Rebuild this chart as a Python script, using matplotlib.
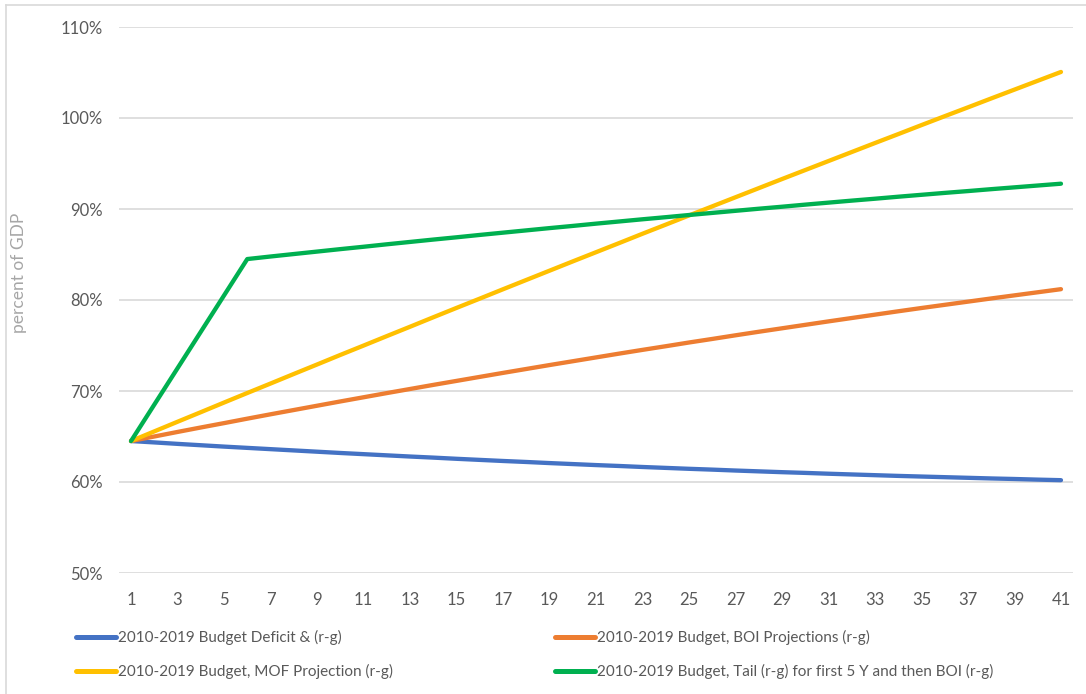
import matplotlib
matplotlib.use("Agg")
import matplotlib.pyplot as plt
from matplotlib.lines import Line2D
from matplotlib.ticker import FuncFormatter

plt.rcParams['font.family'] = ['Lato', 'DejaVu Sans']

years = list(range(1, 42))
xtick_labels = [str(v) for v in range(1, 42, 2)]

# Debt-to-GDP paths (percent of GDP)
deficit_rg = [64.50, 64.35, 64.19, 64.04, 63.89, 63.75, 63.61, 63.47, 63.33, 63.19,
              63.06, 62.93, 62.80, 62.68, 62.55, 62.43, 62.31, 62.20, 62.08, 61.97,
              61.86, 61.76, 61.65, 61.55, 61.45, 61.36, 61.26, 61.17, 61.08, 61.00,
              60.91, 60.83, 60.75, 60.67, 60.60, 60.53, 60.46, 60.39, 60.33, 60.26,
              60.20]
boi_rg = [64.50, 65.00, 65.50, 65.99, 66.47, 66.96, 67.44, 67.91, 68.38, 68.85,
          69.31, 69.77, 70.22, 70.67, 71.11, 71.55, 71.99, 72.42, 72.85, 73.27,
          73.69, 74.11, 74.52, 74.92, 75.33, 75.72, 76.12, 76.51, 76.89, 77.27,
          77.65, 78.02, 78.39, 78.76, 79.12, 79.47, 79.82, 80.17, 80.51, 80.85,
          81.19]
mof_rg = [64.50, 65.56, 66.62, 67.67, 68.73, 69.78, 70.82, 71.87, 72.91, 73.96,
          74.99, 76.03, 77.06, 78.10, 79.13, 80.15, 81.18, 82.20, 83.22, 84.24,
          85.25, 86.26, 87.28, 88.28, 89.29, 90.29, 91.29, 92.29, 93.29, 94.28,
          95.27, 96.26, 97.25, 98.23, 99.22, 100.20, 101.17, 102.15, 103.12, 104.09,
          105.06]
tail_boi_rg = [64.50, 68.50, 72.50, 76.50, 80.50, 84.50, 84.78, 85.05, 85.32, 85.59,
               85.85, 86.12, 86.38, 86.64, 86.89, 87.15, 87.40, 87.65, 87.90, 88.14,
               88.39, 88.63, 88.87, 89.10, 89.34, 89.57, 89.80, 90.03, 90.25, 90.48,
               90.70, 90.92, 91.13, 91.35, 91.56, 91.77, 91.97, 92.18, 92.38, 92.58,
               92.78]

series_names = [
    "2010-2019 Budget Deficit & (r-g)",
    "2010-2019 Budget, BOI Projections (r-g)",
    "2010-2019 Budget, MOF Projection (r-g)",
    "2010-2019 Budget, Tail (r-g) for first 5 Y and then BOI (r-g)",
]
series_values = [deficit_rg, boi_rg, mof_rg, tail_boi_rg]
series_colors = ["#4472C4", "#ED7D31", "#FFC000", "#00B050"]

W, H = 1086, 694
fig = plt.figure(figsize=(W / 100, H / 100), dpi=100)
fig.patch.set_facecolor("white")

# Chart-area frame (top and left edges)
fig.add_artist(Line2D([6 / W, 6 / W], [0, 1 - 5 / H], transform=fig.transFigure,
                      color="#d9d9d9", lw=1.2))
fig.add_artist(Line2D([6 / W, 1], [1 - 5 / H, 1 - 5 / H], transform=fig.transFigure,
                      color="#d9d9d9", lw=1.2))

left, right = 119.4 / W, 1072.6 / W
bottom, top = 1 - 573 / H, 1 - 27 / H
ax = fig.add_axes([left, bottom, right - left, top - bottom])

lines = []
for name, vals, col in zip(series_names, series_values, series_colors):
    ln, = ax.plot(years, vals, color=col, lw=3.1, solid_capstyle="round",
                  solid_joinstyle="round", label=name, zorder=3)
    lines.append(ln)

ax.set_xlim(0.5, 41.5)
ax.set_ylim(50, 110)
ax.set_yticks(range(50, 111, 10))
ax.yaxis.set_major_formatter(FuncFormatter(lambda v, p: f"{int(round(v))}%"))
ax.set_xticks(range(1, 42, 2))
ax.set_xticklabels(xtick_labels)

for s in ax.spines.values():
    s.set_visible(False)
ax.grid(axis="y", color="#d9d9d9", lw=1.2, zorder=0)
ax.tick_params(axis="both", length=0, labelsize=12, colors="#595959")
ax.tick_params(axis="y", pad=11.8)
ax.tick_params(axis="x", pad=14)

ax.set_ylabel("percent of GDP", color="#a6a6a6", fontsize=12.5)
ax.yaxis.set_label_coords(-0.097, 0.55)

# Legend: two columns below the plot, filled row by row
legend_cols = [(76, [0, 2]), (555, [1, 3])]
for x0, idx in legend_cols:
    leg = fig.legend([lines[i] for i in idx], [series_names[i] for i in idx],
                     loc="upper left", bbox_to_anchor=(x0 / W, 1 - 630 / H),
                     frameon=False, fontsize=11.0, labelcolor="#595959",
                     handlelength=2.65, handletextpad=0.12, labelspacing=1.25,
                     borderpad=0, borderaxespad=0)
    for h in leg.get_lines():
        h.set_linewidth(3.6)

fig.savefig("out.png", dpi=100, facecolor="white")
